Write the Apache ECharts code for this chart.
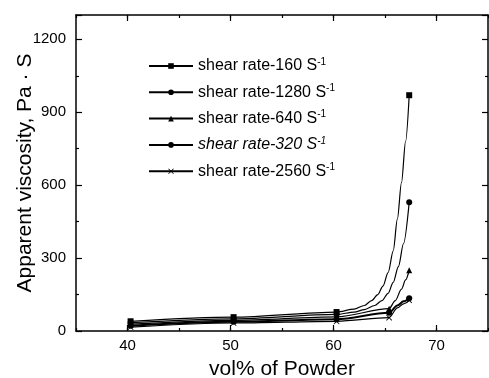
<!DOCTYPE html>
<html><head><meta charset="utf-8">
<script src="https://cdn.jsdelivr.net/npm/echarts@6/dist/echarts.min.js"></script>
<style>html,body{margin:0;padding:0;background:#fff}#c{width:489px;height:378px}</style>
</head><body><div id="c"></div>
<script>
// Category names (legend order)
const seriesNames = ['shear rate-160', 'shear rate-1280', 'shear rate-640', 'shear rate-320', 'shear rate-2560'];
const seriesSymbols = ['rect', 'circle', 'triangle', 'circle', 'path://M0,1L1,0L5,4L9,0L10,1L6,5L10,9L9,10L5,6L1,10L0,9L4,5Z'];

// Measured points (markers): vol% of powder and viscosity
const x160 = [40.3, 50.3, 60.3, 67.35];
const v160 = [40, 57, 78, 970];
const x320 = [40.3, 50.3, 60.3, 67.35];
const v320 = [34, 50, 68, 530];
const x640 = [40.3, 50.3, 60.3, 65.4, 67.35];
const v640 = [28, 44, 58, 92, 250];
const x1280 = [40.3, 50.3, 60.3, 65.4, 67.35];
const v1280 = [22, 38, 48, 75, 135];
const x2560 = [40.3, 50.3, 60.3, 65.4, 67.35];
const v2560 = [16, 33, 40, 55, 126];

// Points (no markers)
const c160x = [62, 63, 63.7, 64.3, 64.8, 65.3, 65.8, 66.2, 66.6, 67.0];
const c160v = [90, 105, 125, 150, 185, 240, 330, 460, 610, 780];
const c320x = [62, 63, 64, 64.7, 65.3, 65.8, 66.3, 66.8];
const c320v = [78, 88, 105, 125, 155, 200, 265, 360];
const c640x = [66.0, 66.6, 67.0];
const c640v = [125, 172, 210];
const c1280x = [66.2, 66.8];
const c1280v = [105, 122];
const c2560x = [66.2, 66.8];
const c2560v = [95, 112];

// Axis ticks
const xTicks = [40, 50, 60, 70];
const yTicks = [0, 300, 600, 900, 1200];

function build(mx, mv, cx, cv) {
  const pts = [];
  mx.forEach((x, i) => pts.push({ value: [x, mv[i]] }));
  cx.forEach((x, i) => pts.push({ value: [x, cv[i]], symbol: 'none' }));
  pts.sort((a, b) => a.value[0] - b.value[0]);
  return pts;
}
const allData = {
  'shear rate-160': build(x160, v160, c160x, c160v),
  'shear rate-1280': build(x1280, v1280, c1280x, c1280v),
  'shear rate-640': build(x640, v640, c640x, c640v),
  'shear rate-320': build(x320, v320, c320x, c320v),
  'shear rate-2560': build(x2560, v2560, c2560x, c2560v)
};

const font = 'Liberation Sans, Arial, sans-serif';
const lineSt = { color: '#000', width: 1.5 };
const tickSt = { color: '#000', width: 1.2 };

function xAx(pos, major, showLine, extra) {
  const a = {
    type: 'value', min: 35, max: 75, interval: 5, position: pos,
    axisLine: { show: showLine, lineStyle: lineSt },
    axisTick: major
      ? { show: true, inside: true, length: 6, lineStyle: tickSt, customValues: xTicks }
      : { show: true, inside: true, length: 3, lineStyle: tickSt },
    axisLabel: { show: false },
    splitLine: { show: false }
  };
  return Object.assign(a, extra || {});
}

const chart = echarts.init(document.getElementById('c'), null, { renderer: 'canvas' });
chart.setOption({
  animation: false,
  backgroundColor: '#fff',
  grid: { left: 76, top: 15, right: 1, bottom: 47, containLabel: false, outerBoundsMode: 'none' },
  legend: {
    orient: 'vertical', left: 143, top: 52,
    itemWidth: 44, itemHeight: 7, itemGap: 9.3,
    data: seriesNames,
    formatter: function (name) {
      const r = name.replace('shear rate-', '');
      if (r === '320') return '{it|shear rate-320 S}{itsup|-1}';
      return '{n|shear rate-' + r + ' S}{sup|-1}';
    },
    textStyle: {
      color: '#000', fontFamily: font, fontSize: 16,
      rich: {
        n: { fontSize: 16, fontFamily: font, color: '#000' },
        it: { fontSize: 16, fontFamily: font, color: '#000', fontStyle: 'italic' },
        sup: { fontSize: 10, fontFamily: font, color: '#000', verticalAlign: 'top', padding: [0, 0, 8, 0] },
        itsup: { fontSize: 10, fontFamily: font, color: '#000', fontStyle: 'italic', verticalAlign: 'top', padding: [0, 0, 8, 0] }
      }
    }
  },
  xAxis: [
    xAx('bottom', true, true, {
      name: 'vol% of Powder', nameLocation: 'middle', nameGap: 28,
      nameTextStyle: { fontFamily: font, fontSize: 21, color: '#000' },
      axisLabel: { show: true, color: '#000', fontFamily: font, fontSize: 15, margin: 7, customValues: xTicks }
    }),
    xAx('bottom', false, false),
    xAx('top', true, true),
    xAx('top', false, false)
  ],
  yAxis: [
    {
      type: 'value', min: 0, max: 1300, interval: 300, position: 'left',
      axisLine: { show: true, lineStyle: lineSt },
      axisTick: { show: true, inside: true, length: 6, lineStyle: tickSt },
      minorTick: { show: true, splitNumber: 2, length: 3, lineStyle: tickSt },
      splitLine: { show: false },
      name: 'Apparent viscosity, Pa · S', nameLocation: 'middle', nameGap: 40,
      nameMoveOverlap: false,
      nameTextStyle: { fontFamily: font, fontSize: 21, color: '#000' },
      axisLabel: { color: '#000', fontFamily: font, fontSize: 15, margin: 10,
        formatter: v => yTicks.includes(v) ? String(v) : '' }
    },
    {
      type: 'value', min: 0, max: 1300, interval: 300, position: 'right',
      axisLine: { show: true, lineStyle: lineSt },
      axisTick: { show: true, inside: true, length: 6, lineStyle: tickSt },
      minorTick: { show: true, splitNumber: 2, length: 3, lineStyle: tickSt },
      splitLine: { show: false },
      axisLabel: { show: false }
    }
  ],
  series: seriesNames.map((name, i) => ({
    name: name,
    type: 'line',
    data: allData[name],
    smooth: 0.3,
    smoothMonotone: 'x',
    symbol: seriesSymbols[i],
    symbolSize: 6,
    showSymbol: true,
    lineStyle: { color: '#000', width: name === 'shear rate-1280' ? 2 : 1.2 },
    itemStyle: { color: '#000' },
    z: 3
  }))
});
</script>
</body></html>
